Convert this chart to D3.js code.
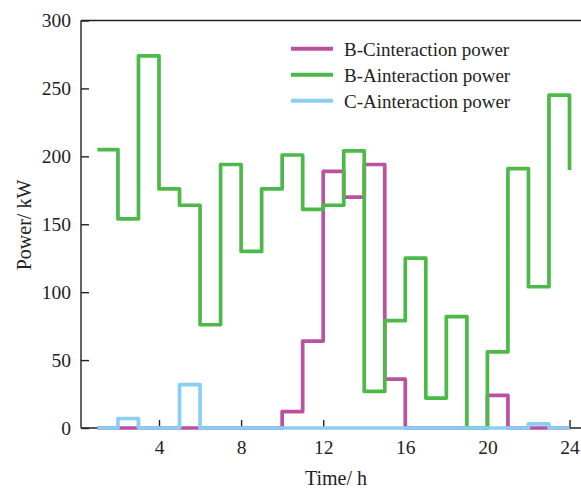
<!DOCTYPE html>
<html>
<head>
<meta charset="utf-8">
<script src="https://cdn.jsdelivr.net/npm/d3@7"></script>
<style>
  body { margin: 0; background: #fff; }
  svg { display: block; font-family: "Liberation Serif", "DejaVu Serif", serif; }
</style>
</head>
<body>
<svg id="chart" width="581" height="489"></svg>
<script>
// hours 1..24, value held until the next hour
const hours = d3.range(1, 25);
const bcPower = [0, 0, 0, 0, 0, 0, 0, 0, 0, 12, 64, 189, 170, 194, 36, 0, 0, 0, 0, 24, 0, 0, 0, 0];
const baPower = [205, 154, 274, 176, 164, 76, 194, 130, 176, 201, 161, 164, 204, 27, 79, 125, 22, 82, 0, 56, 191, 104, 245, 190];
const caPower = [0, 7, 0, 0, 32, 0, 0, 0, 0, 0, 0, 0, 0, 0, 0, 0, 0, 0, 0, 0, 0, 3, 0, 0];
const seriesNames = ["B-Cinteraction power", "B-Ainteraction power", "C-Ainteraction power"];
const xTicks = [4, 8, 12, 16, 20, 24];
const yTicks = [0, 50, 100, 150, 200, 250, 300];

const svg = d3.select("#chart");
const plotLeft = 81, plotTop = 20.5, plotBottom = 428, plotRight = 600;

const x = d3.scaleLinear().domain([4, 24]).range([159, 569.5]);
const y = d3.scaleLinear().domain([0, 300]).range([plotBottom, plotTop]);

const colors = ["#bb52a0", "#4cb948", "#89cff1"];

// frame: top line and the two axes
svg.append("line")
    .attr("x1", plotLeft).attr("x2", plotRight).attr("y1", plotTop).attr("y2", plotTop)
    .attr("stroke", "#222").attr("stroke-width", 1.3);

const xAxis = svg.append("g")
    .attr("transform", `translate(0,${plotBottom})`)
    .call(d3.axisBottom(x).tickValues(xTicks).tickSizeInner(-8).tickSizeOuter(0).tickPadding(12));
xAxis.select(".domain").attr("d", `M${plotLeft},0H${plotRight}`);

const yAxis = svg.append("g")
    .attr("transform", `translate(${plotLeft},0)`)
    .call(d3.axisLeft(y).tickValues(yTicks).tickSizeInner(-8).tickSizeOuter(0).tickPadding(10));
yAxis.select(".domain").attr("d", `M0,${plotTop}V${plotBottom}`);

svg.selectAll(".tick text")
    .style("font-family", "Liberation Serif, serif")
    .style("font-size", "19.5px")
    .attr("fill", "#222");
svg.selectAll(".domain, .tick line").attr("stroke", "#222").attr("stroke-width", 1.4);

// step lines
const line = d3.line()
    .x(d => x(d[0]))
    .y(d => y(d[1]))
    .curve(d3.curveStepAfter);

[bcPower, baPower, caPower].forEach((vals, i) => {
    svg.append("path")
        .datum(hours.map((h, j) => [h, vals[j]]))
        .attr("d", line)
        .attr("fill", "none")
        .attr("stroke", colors[i])
        .attr("stroke-width", 3.7)
        .attr("stroke-linejoin", "round");
});

// legend
const legend = svg.append("g").attr("transform", "translate(291,48.7)");
seriesNames.forEach((name, i) => {
    legend.append("line")
        .attr("x1", 0).attr("x2", 42)
        .attr("y1", i * 26).attr("y2", i * 26)
        .attr("stroke", colors[i]).attr("stroke-width", 4);
    legend.append("text")
        .attr("x", 53).attr("y", i * 26 + 7)
        .style("font-size", "19px")
        .attr("fill", "#222")
        .text(name);
});

// axis titles
svg.append("text")
    .attr("x", 336).attr("y", 485)
    .attr("text-anchor", "middle")
    .style("font-size", "20px").attr("fill", "#222")
    .text("Time/ h");

svg.append("text")
    .attr("transform", "translate(31,225) rotate(-90)")
    .attr("text-anchor", "middle")
    .style("font-size", "20px").attr("fill", "#222")
    .text("Power/ kW");
</script>
</body>
</html>
